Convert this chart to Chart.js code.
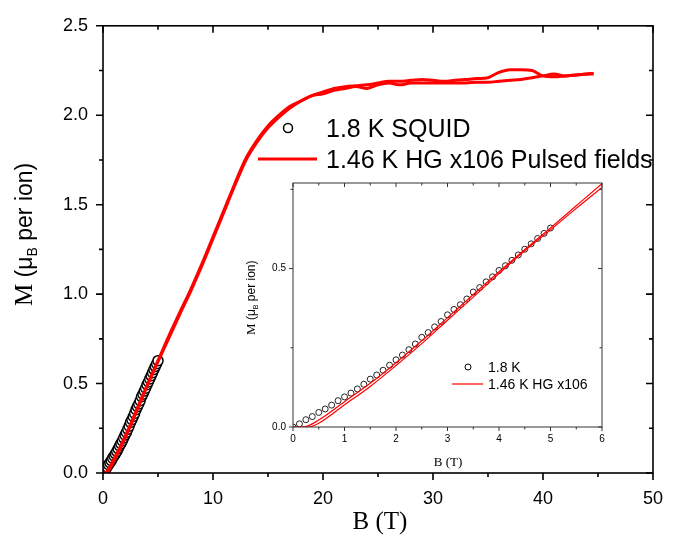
<!DOCTYPE html>
<html>
<head>
<meta charset="utf-8">
<script src="https://cdn.jsdelivr.net/npm/chart.js@4.4.1/dist/chart.umd.min.js"></script>
<style>
  html, body { margin: 0; padding: 0; background: #fff; }
  #wrap { position: relative; width: 678px; height: 544px; }
  #mainChart { position: absolute; left: 0; top: 0; }
  #insetChart { position: absolute; left: 236px; top: 170px; }
</style>
</head>
<body>
<div id="wrap">
  <canvas id="mainChart" width="678" height="544"></canvas>
  <canvas id="insetChart" width="384" height="302"></canvas>
</div>
<script>
// SQUID data, 1.8 K
const squidB = [0, 0.125, 0.25, 0.375, 0.5, 0.625, 0.75, 0.875, 1, 1.125, 1.25, 1.375, 1.5, 1.625, 1.75, 1.875,
    2, 2.125, 2.25, 2.375, 2.5, 2.625, 2.75, 2.875, 3, 3.125, 3.25, 3.375, 3.5, 3.625, 3.75, 3.875,
    4, 4.125, 4.25, 4.375, 4.5, 4.625, 4.75, 4.875, 5];
const squidM = [0.0, 0.010, 0.023, 0.033, 0.046, 0.057, 0.069, 0.083, 0.095, 0.107, 0.120, 0.135, 0.151, 0.164, 0.179, 0.195,
    0.212, 0.227, 0.244, 0.262, 0.283, 0.298, 0.316, 0.333, 0.354, 0.371, 0.386, 0.404, 0.426, 0.440, 0.458, 0.474,
    0.494, 0.509, 0.526, 0.543, 0.561, 0.578, 0.595, 0.611, 0.628];

// pulsed field, 1.46 K, two sweeps
const hgUpB = [0, 0.2, 0.5, 1, 1.5, 2, 2.5, 3, 3.5, 4, 4.5, 5, 5.5, 6,
    7, 8, 9, 10, 11, 12, 13, 14, 15, 16, 17, 18, 19, 20, 21, 22, 23, 24, 25, 26,
    27, 28, 29, 30, 31, 32, 33, 34, 35, 36, 37, 38, 39, 40, 41, 42, 43, 44, 44.6];
const hgUpM = [0, 0, 0.022, 0.08, 0.138, 0.203, 0.272, 0.345, 0.418, 0.49, 0.56, 0.628, 0.698, 0.768,
    0.9, 1.03, 1.17, 1.32, 1.47, 1.62, 1.76, 1.86, 1.94, 2.0,
    2.05, 2.08, 2.11, 2.13, 2.15, 2.16, 2.165, 2.17, 2.18, 2.19,
    2.19, 2.195, 2.2, 2.195, 2.19, 2.195, 2.2, 2.205, 2.21, 2.24,
    2.255, 2.255, 2.25, 2.22, 2.215, 2.22, 2.225, 2.23, 2.235];
const hgDownB = [0, 0.3, 0.5, 1, 1.5, 2, 2.5, 3, 3.5, 4, 4.5, 5, 5.5, 6,
    7, 8, 9, 10, 11, 12, 13, 14, 15, 16, 17, 18, 19, 20, 21, 22, 23, 24, 25, 26,
    27, 28, 29, 30, 31, 32, 33, 34, 35, 36, 37, 38, 39, 40, 41, 42, 43, 44, 44.6];
const hgDownM = [0, 0, 0.012, 0.07, 0.128, 0.194, 0.263, 0.337, 0.41, 0.484, 0.556, 0.622, 0.69, 0.756,
    0.89, 1.02, 1.16, 1.31, 1.46, 1.61, 1.75, 1.85, 1.93, 1.99,
    2.04, 2.08, 2.11, 2.12, 2.14, 2.15, 2.16, 2.15, 2.17, 2.18,
    2.17, 2.18, 2.18, 2.18, 2.18, 2.18, 2.18, 2.185, 2.185, 2.19,
    2.195, 2.2, 2.21, 2.22, 2.23, 2.22, 2.225, 2.23, 2.23];

const SANS = '"Liberation Sans", Arial, sans-serif';
const SERIF = '"Liberation Serif", "Times New Roman", serif';
const RED = '#ff0000';

const pts = (xs, ys) => xs.map((x, i) => ({ x: x, y: ys[i] }));

function drawVTitle(ctx, x, y, parts) {
    ctx.save();
    ctx.translate(x, y);
    ctx.rotate(-Math.PI / 2);
    ctx.textBaseline = 'alphabetic';
    ctx.textAlign = 'left';
    let pos = 0;
    parts.forEach(p => {
        ctx.font = p.font;
        ctx.fillText(p.text, pos, p.dy || 0);
        pos += ctx.measureText(p.text).width;
    });
    ctx.restore();
}

// frame, ticks on all four sides, titles and legend
function decor(cfg) {
    return {
        id: 'decor',
        afterDatasetsDraw(chart) {
            const ctx = chart.ctx;
            const a = chart.chartArea;
            const xs = chart.scales.x, ys = chart.scales.y;
            ctx.save();
            ctx.strokeStyle = cfg.axisColor;
            ctx.lineWidth = cfg.frameWidth;
            ctx.strokeRect(a.left, a.top, a.right - a.left, a.bottom - a.top);

            ctx.lineWidth = cfg.tickWidth;
            ctx.beginPath();
            xs.ticks.forEach(t => {
                const px = xs.getPixelForValue(t.value);
                const len = t.label !== '' ? cfg.major : cfg.minor;
                ctx.moveTo(px, a.bottom); ctx.lineTo(px, a.bottom + len);
                ctx.moveTo(px, a.top); ctx.lineTo(px, a.top + len);
            });
            ys.ticks.forEach(t => {
                const py = ys.getPixelForValue(t.value);
                const len = t.label !== '' ? cfg.major : cfg.minor;
                ctx.moveTo(a.left, py); ctx.lineTo(a.left - len, py);
                ctx.moveTo(a.right, py); ctx.lineTo(a.right - len, py);
            });
            ctx.stroke();

            ctx.fillStyle = '#000';
            ctx.font = cfg.xTitle.font;
            ctx.textAlign = 'center';
            ctx.textBaseline = 'alphabetic';
            ctx.fillText('B (T)', cfg.xTitle.x, cfg.xTitle.y);
            drawVTitle(ctx, cfg.yTitle.x, cfg.yTitle.y, cfg.yTitle.parts);

            const lg = cfg.legend;
            ctx.font = lg.font;
            ctx.textAlign = 'left';
            ctx.lineWidth = lg.markerWidth;
            ctx.strokeStyle = '#000';
            ctx.beginPath();
            ctx.arc(lg.markX, lg.y1, lg.radius, 0, Math.PI * 2);
            ctx.stroke();
            ctx.fillText(lg.labels[0], lg.textX, lg.y1 + lg.textDy);
            ctx.strokeStyle = RED;
            ctx.lineWidth = lg.lineWidth;
            ctx.beginPath();
            ctx.moveTo(lg.lineX0, lg.y2);
            ctx.lineTo(lg.lineX1, lg.y2);
            ctx.stroke();
            ctx.fillText(lg.labels[1], lg.textX, lg.y2 + lg.textDy);
            ctx.restore();
        }
    };
}

function axes(xMax, xStep, xMajor, yMax, yStep, yMajor, fontSize, xPad, yPad, yWidth, xHeight) {
    return {
        x: {
            type: 'linear', min: 0, max: xMax,
            grid: { display: false, drawTicks: false },
            border: { display: false },
            ticks: {
                stepSize: xStep, padding: xPad, color: '#000', maxRotation: 0, autoSkip: false,
                includeBounds: false,
                font: { family: SANS, size: fontSize },
                callback: v => (Math.abs(v / xMajor - Math.round(v / xMajor)) < 1e-6 ? String(Math.round(v)) : '')
            },
            afterFit: s => { s.height = xHeight; }
        },
        y: {
            type: 'linear', min: 0, max: yMax,
            grid: { display: false, drawTicks: false },
            border: { display: false },
            ticks: {
                stepSize: yStep, padding: yPad, color: '#000', autoSkip: false,
                includeBounds: false,
                font: { family: SANS, size: fontSize },
                callback: v => (Math.abs(v / yMajor - Math.round(v / yMajor)) < 1e-6 ? v.toFixed(1) : '')
            },
            afterFit: s => { s.width = yWidth; }
        }
    };
}

new Chart(document.getElementById('mainChart'), {
    type: 'scatter',
    data: {
        datasets: [
            { data: pts(hgUpB, hgUpM), showLine: true, borderColor: RED, borderWidth: 3, pointRadius: 0,
              cubicInterpolationMode: 'monotone' },
            { data: pts(hgDownB, hgDownM), showLine: true, borderColor: RED, borderWidth: 3, pointRadius: 0,
              cubicInterpolationMode: 'monotone' },
            { data: pts(squidB, squidM), showLine: false, pointRadius: 5, pointBorderWidth: 1.5,
              pointBorderColor: '#000', pointBackgroundColor: '#fff' }
        ]
    },
    options: {
        responsive: false,
        animation: false,
        layout: { padding: { left: 0, top: 22, right: 14, bottom: 0 } },
        plugins: { legend: { display: false }, tooltip: { enabled: false } },
        scales: axes(50, 5, 10, 2.5, 0.25, 0.5, 18, 15, 15, 103, 71)
    },
    plugins: [decor({
        axisColor: '#000', frameWidth: 1.6, tickWidth: 1.6, major: 7, minor: 4,
        xTitle: { font: '25px ' + SERIF, x: 380, y: 529 },
        yTitle: { x: 32, y: 306, parts: [
            { text: 'M', font: '25px ' + SERIF },
            { text: ' (\u03bc', font: '23px ' + SANS },
            { text: 'B', font: '14px ' + SANS, dy: 5 },
            { text: ' per ion)', font: '23px ' + SANS }
        ] },
        legend: {
            font: '25px ' + SANS, labels: ['1.8 K SQUID', '1.46 K HG x106 Pulsed fields'],
            markX: 288, radius: 4.5, markerWidth: 1.5, lineX0: 258, lineX1: 317, lineWidth: 3,
            y1: 128, y2: 159, textX: 326, textDy: 9
        }
    })]
});

new Chart(document.getElementById('insetChart'), {
    type: 'scatter',
    data: {
        datasets: [
            { data: pts(hgUpB, hgUpM), showLine: true, borderColor: RED, borderWidth: 1.2, pointRadius: 0,
              cubicInterpolationMode: 'monotone' },
            { data: pts(hgDownB, hgDownM), showLine: true, borderColor: RED, borderWidth: 1.2, pointRadius: 0,
              cubicInterpolationMode: 'monotone' },
            { data: pts(squidB, squidM), showLine: false, pointRadius: 3, pointBorderWidth: 1,
              pointBorderColor: '#222', pointBackgroundColor: 'rgba(0,0,0,0)' }
        ]
    },
    options: {
        responsive: false,
        animation: false,
        layout: { padding: { left: 0, top: 9, right: 18, bottom: 0 } },
        plugins: { legend: { display: false }, tooltip: { enabled: false } },
        scales: axes(6, 0.5, 1, 0.77, 0.25, 0.5, 10, 6, 7, 57, 45)
    },
    plugins: [decor({
        axisColor: '#333', frameWidth: 1, tickWidth: 1, major: 4, minor: 2.5,
        xTitle: { font: '13px ' + SERIF, x: 212, y: 296 },
        yTitle: { x: 19, y: 165, parts: [
            { text: 'M', font: '13px ' + SERIF },
            { text: ' (\u03bc', font: '12px ' + SANS },
            { text: 'B', font: '7px ' + SANS, dy: 2.5 },
            { text: ' per ion)', font: '12px ' + SANS }
        ] },
        legend: {
            font: '14px ' + SANS, labels: ['1.8 K', '1.46 K HG x106'],
            markX: 232, radius: 3, markerWidth: 1, lineX0: 216, lineX1: 247, lineWidth: 1.2,
            y1: 197, y2: 214, textX: 252, textDy: 5
        }
    })]
});
</script>
</body>
</html>
